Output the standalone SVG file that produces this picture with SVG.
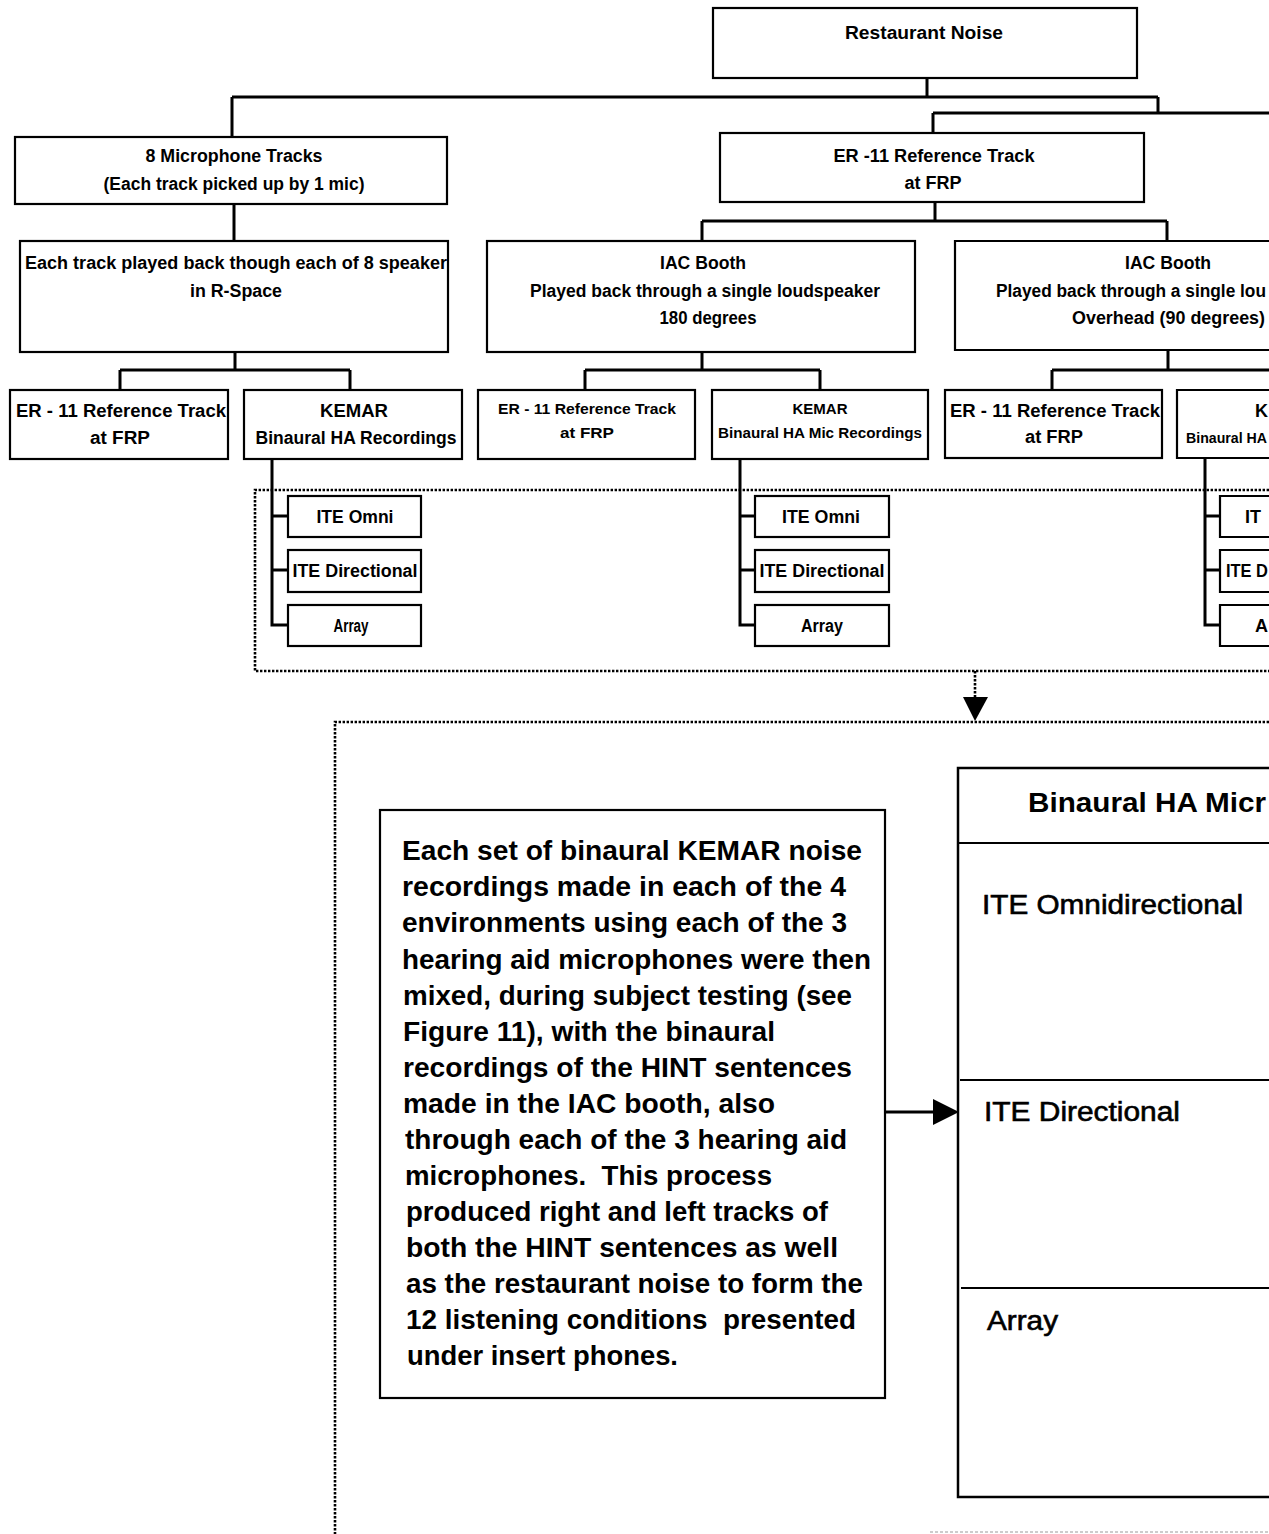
<svg xmlns="http://www.w3.org/2000/svg" width="1269" height="1534" viewBox="0 0 1269 1534">
<style>
.box{fill:#fff;stroke:#000;stroke-width:2.2}
.conn{fill:none;stroke:#000;stroke-width:3}
.dot{fill:none;stroke:#000;stroke-width:2.6;stroke-dasharray:2.4 1.6}
.t{font-family:"Liberation Sans",Arial,sans-serif;font-weight:bold;fill:#000}
.s18{font-size:18px}
.s17{font-size:17px}
.s15{font-size:15px}
.c{text-anchor:middle}
.big{font-family:"Liberation Sans",Arial,sans-serif;font-weight:bold;font-size:27px;fill:#000}
.med{font-family:"Liberation Sans",Arial,sans-serif;font-size:27px;fill:#000;stroke:#000;stroke-width:0.6}
</style>
<defs>
<clipPath id="clipRspace"><rect x="21" y="242" width="426" height="109"/></clipPath>
</defs>
<rect width="1269" height="1534" fill="#fff"/>

<g id="connectors">
<path class="conn" d="M927,78 V97 M232,97 H1158 M232,97 V137 M1158,97 V113 M933,113 H1269 M933,113 V133"/>
<path class="conn" d="M234,204 V241"/>
<path class="conn" d="M935,202 V221 M702,221 H1167 M702,221 V241 M1167,221 V241"/>
<path class="conn" d="M235,352 V370 M120,370 H350 M120,370 V390 M350,370 V390"/>
<path class="conn" d="M702,352 V370 M585,370 H820 M585,370 V390 M820,370 V390"/>
<path class="conn" d="M1168,350 V370 M1052,370 H1269 M1052,370 V390"/>
<path class="conn" d="M272,459 V625 H288 M272,516 H288 M272,570 H288"/>
<path class="conn" d="M740,459 V625 H755 M740,516 H755 M740,570 H755"/>
<path class="conn" d="M1205,458 V625 H1220 M1205,516 H1220 M1205,570 H1220"/>
<path class="dot" d="M1269,490 H255 V671 H1269"/>
<path class="dot" d="M975,671 V697"/>
<polygon points="963,697 988,697 975,721" fill="#000"/>
<path class="dot" d="M1269,722 H335 V1534"/>
<path d="M930,1532 H1269" fill="none" stroke="#999" stroke-width="1" stroke-dasharray="3 2"/>
<path class="conn" d="M885,1112 H934" stroke-width="2.5"/>
<polygon points="933,1099 959,1112 933,1125" fill="#000"/>
</g>

<g id="n-restaurant">
<rect class="box" x="713" y="8" width="424" height="70"/>
<text class="t s18 c" x="924" y="39" textLength="158" lengthAdjust="spacingAndGlyphs">Restaurant Noise</text>
</g>

<g id="n-mic8">
<rect class="box" x="15" y="137" width="432" height="67"/>
<text class="t s18 c" x="234" y="162" textLength="177" lengthAdjust="spacingAndGlyphs">8 Microphone Tracks</text>
<text class="t s18 c" x="234" y="190" textLength="261" lengthAdjust="spacingAndGlyphs">(Each track picked up by 1 mic)</text>
</g>

<g id="n-er11-top">
<rect class="box" x="720" y="133" width="424" height="69"/>
<text class="t s18 c" x="934" y="162" textLength="201" lengthAdjust="spacingAndGlyphs">ER -11 Reference Track</text>
<text class="t s18 c" x="933" y="189" textLength="57" lengthAdjust="spacingAndGlyphs">at FRP</text>
</g>

<g id="n-rspace">
<rect class="box" x="20" y="241" width="428" height="111"/>
<text class="t s18" x="25" y="269" textLength="432" lengthAdjust="spacingAndGlyphs" clip-path="url(#clipRspace)">Each track played back though each of 8 speakers</text>
<text class="t s18 c" x="236" y="297" textLength="92" lengthAdjust="spacingAndGlyphs">in R-Space</text>
</g>

<g id="n-iac1">
<rect class="box" x="487" y="241" width="428" height="111"/>
<text class="t s18 c" x="703" y="269" textLength="86" lengthAdjust="spacingAndGlyphs">IAC Booth</text>
<text class="t s18 c" x="705" y="297" textLength="350" lengthAdjust="spacingAndGlyphs">Played back through a single loudspeaker</text>
<text class="t s18 c" x="708" y="324" textLength="97" lengthAdjust="spacingAndGlyphs">180 degrees</text>
</g>

<g id="n-iac2">
<path class="box" d="M1275,241 H955 V350 H1275"/>
<text class="t s18 c" x="1168" y="269" textLength="86" lengthAdjust="spacingAndGlyphs">IAC Booth</text>
<text class="t s18" x="996" y="297" textLength="270" lengthAdjust="spacingAndGlyphs">Played back through a single lou</text>
<text class="t s18" x="1072" y="324" textLength="193" lengthAdjust="spacingAndGlyphs">Overhead (90 degrees)</text>
</g>

<g id="n-er11-a">
<rect class="box" x="10" y="390" width="218" height="69"/>
<text class="t s18" x="16" y="417" textLength="210" lengthAdjust="spacingAndGlyphs">ER - 11 Reference Track</text>
<text class="t s18 c" x="120" y="444" textLength="60" lengthAdjust="spacingAndGlyphs">at FRP</text>
</g>

<g id="n-kemar-a">
<rect class="box" x="244" y="390" width="218" height="69"/>
<text class="t s18 c" x="354" y="417" textLength="68" lengthAdjust="spacingAndGlyphs">KEMAR</text>
<text class="t s18 c" x="356" y="444" textLength="201" lengthAdjust="spacingAndGlyphs">Binaural HA Recordings</text>
</g>

<g id="n-er11-b">
<rect class="box" x="478" y="390" width="217" height="69"/>
<text class="t s15 c" x="587" y="414" textLength="178" lengthAdjust="spacingAndGlyphs">ER - 11 Reference Track</text>
<text class="t s15 c" x="587" y="438" textLength="54" lengthAdjust="spacingAndGlyphs">at FRP</text>
</g>

<g id="n-kemar-b">
<rect class="box" x="712" y="390" width="216" height="69"/>
<text class="t s15 c" x="820" y="414" textLength="55" lengthAdjust="spacingAndGlyphs">KEMAR</text>
<text class="t s15 c" x="820" y="438" textLength="204" lengthAdjust="spacingAndGlyphs">Binaural HA  Mic Recordings</text>
</g>

<g id="n-er11-c">
<rect class="box" x="945" y="390" width="217" height="68"/>
<text class="t s18" x="950" y="417" textLength="210" lengthAdjust="spacingAndGlyphs">ER - 11 Reference Track</text>
<text class="t s18 c" x="1054" y="443" textLength="58" lengthAdjust="spacingAndGlyphs">at FRP</text>
</g>

<g id="n-kemar-c">
<path class="box" d="M1275,390 H1177 V458 H1275"/>
<text class="t s18" x="1255" y="417">K</text>
<text class="t s15" x="1186" y="443" textLength="81" lengthAdjust="spacingAndGlyphs">Binaural HA</text>
</g>

<g id="n-ite-a">
<rect class="box" x="288" y="496" width="133" height="41"/>
<text class="t s18 c" x="355" y="523" textLength="77" lengthAdjust="spacingAndGlyphs">ITE Omni</text>
<rect class="box" x="288" y="550" width="133" height="42"/>
<text class="t s18 c" x="355" y="577" textLength="125" lengthAdjust="spacingAndGlyphs">ITE Directional</text>
<rect class="box" x="288" y="605" width="133" height="41"/>
<text class="t s18 c" x="351" y="632" textLength="35" lengthAdjust="spacingAndGlyphs">Array</text>
</g>

<g id="n-ite-b">
<rect class="box" x="755" y="496" width="134" height="41"/>
<text class="t s18 c" x="821" y="523" textLength="78" lengthAdjust="spacingAndGlyphs">ITE Omni</text>
<rect class="box" x="755" y="550" width="134" height="42"/>
<text class="t s18 c" x="822" y="577" textLength="125" lengthAdjust="spacingAndGlyphs">ITE Directional</text>
<rect class="box" x="755" y="605" width="134" height="41"/>
<text class="t s18 c" x="822" y="632" textLength="42" lengthAdjust="spacingAndGlyphs">Array</text>
</g>

<g id="n-ite-c">
<path class="box" d="M1275,496 H1220 V537 H1275 M1275,550 H1220 V592 H1275 M1275,605 H1220 V646 H1275"/>
<text class="t s18" x="1245" y="523">IT</text>
<text class="t s18" x="1226" y="577" textLength="42" lengthAdjust="spacingAndGlyphs">ITE D</text>
<text class="t s18" x="1255" y="632">A</text>
</g>

<g id="n-description">
<rect class="box" x="380" y="810" width="505" height="588"/>
<text class="big" x="402" y="860" textLength="460" lengthAdjust="spacingAndGlyphs">Each set of binaural KEMAR noise</text>
<text class="big" x="402" y="896" textLength="444" lengthAdjust="spacingAndGlyphs">recordings made in each of the 4</text>
<text class="big" x="402" y="932" textLength="445" lengthAdjust="spacingAndGlyphs">environments using each of the 3</text>
<text class="big" x="402" y="969" textLength="469" lengthAdjust="spacingAndGlyphs">hearing aid microphones were then</text>
<text class="big" x="403" y="1005" textLength="449" lengthAdjust="spacingAndGlyphs">mixed, during subject testing (see</text>
<text class="big" x="403" y="1041" textLength="372" lengthAdjust="spacingAndGlyphs">Figure 11), with the binaural</text>
<text class="big" x="403" y="1077" textLength="449" lengthAdjust="spacingAndGlyphs">recordings of the HINT sentences</text>
<text class="big" x="403" y="1113" textLength="372" lengthAdjust="spacingAndGlyphs">made in the IAC booth, also</text>
<text class="big" x="405" y="1149" textLength="442" lengthAdjust="spacingAndGlyphs">through each of the 3 hearing aid</text>
<text class="big" x="405" y="1185" textLength="367" lengthAdjust="spacingAndGlyphs" xml:space="preserve">microphones.  This process</text>
<text class="big" x="406" y="1221" textLength="422" lengthAdjust="spacingAndGlyphs">produced right and left tracks of</text>
<text class="big" x="406" y="1257" textLength="432" lengthAdjust="spacingAndGlyphs">both the HINT sentences as well</text>
<text class="big" x="406" y="1293" textLength="457" lengthAdjust="spacingAndGlyphs">as the restaurant noise to form the</text>
<text class="big" x="406" y="1329" textLength="450" lengthAdjust="spacingAndGlyphs" xml:space="preserve">12 listening conditions  presented</text>
<text class="big" x="407" y="1365" textLength="271" lengthAdjust="spacingAndGlyphs">under insert phones.</text>
</g>

<g id="n-binaural-table">
<path fill="#fff" stroke="#000" stroke-width="2.5" d="M1275,768 H958 V1497 H1275"/>
<path fill="none" stroke="#000" stroke-width="2" d="M958,843 H1269 M960,1080 H1269 M961,1288 H1269"/>
<text class="big" x="1028" y="812" font-size="26" textLength="238" lengthAdjust="spacingAndGlyphs">Binaural HA Micr</text>
<text class="med" x="982" y="914" textLength="261" lengthAdjust="spacingAndGlyphs">ITE Omnidirectional</text>
<text class="med" x="984" y="1121" textLength="196" lengthAdjust="spacingAndGlyphs">ITE Directional</text>
<text class="med" x="987" y="1330" textLength="71" lengthAdjust="spacingAndGlyphs">Array</text>
</g>
</svg>
